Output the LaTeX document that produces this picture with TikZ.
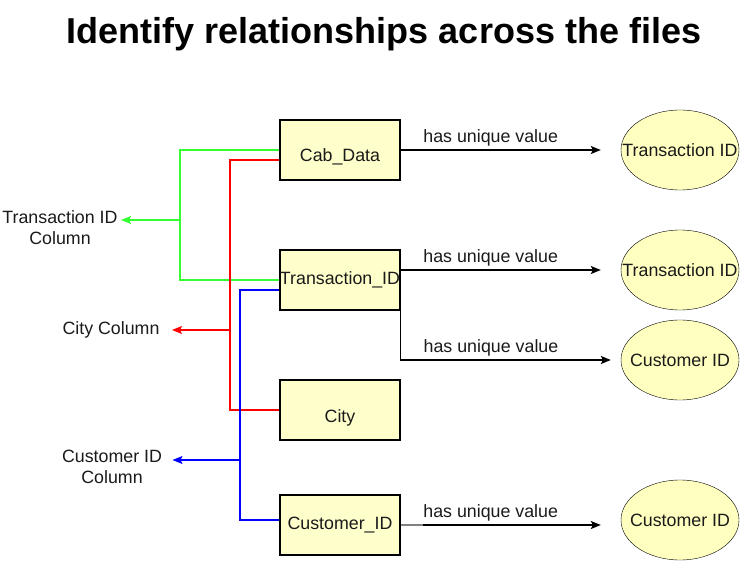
\documentclass[tikz,border=0pt]{standalone}
\usepackage{fontspec}
\setmainfont{Liberation Sans}
\usepackage{xcolor}
\usepackage{tikz}
\usetikzlibrary{calc}
\usetikzlibrary{shapes.geometric,arrows.meta}
\definecolor{boxfill}{HTML}{FFFFCC}
\definecolor{ovalfill}{HTML}{FFFFC0}
\definecolor{txt}{HTML}{1A1A1A}
\definecolor{lgreen}{HTML}{33FF33}

\begin{document}
\begin{tikzpicture}[x=1pt, y=-1pt,
    box/.style={draw, line width=1.2pt, fill=boxfill, minimum width=120pt, minimum height=60pt, inner sep=0pt, font=\fontsize{17.8}{21}\selectfont, text=txt},
    low/.style={text height=28pt, text depth=4pt},
    oval/.style={draw, ellipse, fill=ovalfill, minimum width=118pt, minimum height=80pt, inner sep=0pt},
    lbl/.style={font=\fontsize{17.8}{21}\selectfont, text=txt, align=center},
    arr/.style={-{Stealth[length=10pt, width=8pt, inset=2pt]}, line width=1.2pt}]
        %FRAME
        \useasboundingbox (0,0) rectangle (741,561);
        %TITLE
        \node[font=\bfseries\fontsize{36}{40}\selectfont] (title) at (384,34) {Identify relationships across the files};
        %FILES
        \node[box, low] (cab) at (340,150) {Cab\_Data};
        \node[box] (tid) at (340,280) {Transaction\_ID};
        \node[box, low] (city) at (340,410) {City};
        \node[box] (cid) at (340,525) {Customer\_ID};
        %VALUES
        \node[oval] (tv1) at (680,150) {};
        \node[oval] (tv2) at (680,270) {};
        \node[oval] (cv1) at (680,360) {};
        \node[oval] (cv2) at (680,520) {};
        \node[lbl] (tv1t) at (tv1) {Transaction ID};
        \node[lbl] (tv2t) at (tv2) {Transaction ID};
        \node[lbl] (cv1t) at (cv1) {Customer ID};
        \node[lbl] (cv2t) at (cv2) {Customer ID};
        %COLUMNS
        \node[lbl] (tcol) at (60,228) {Transaction ID\\Column};
        \node[lbl] (ccol) at (111,330) {City Column};
        \node[lbl] (cucol) at (112,467) {Customer ID\\Column};
        %JOINTS
        \coordinate (gj) at (180,220);
        \coordinate (rj) at (230,330);
        \coordinate (bj) at (240,460);
        %HAS UNIQUE VALUE
        \draw[arr] (cab.east) -- ([xshift=-20pt]tv1.west) node[lbl, pos=0.45, above] (h1) {has unique value};
        \draw[arr] (tid.east |- tv2) -- ([xshift=-20pt]tv2.west) node[lbl, pos=0.45, above] (h2) {has unique value};
        \draw[arr] (tid.east |- tv2) -- (tid.east |- cv1) -- ([xshift=-10pt]cv1.west) node[lbl, pos=0.43, above] (h3) {has unique value};
        \draw[arr] (cid.east) -- ($(cid.east -| cv2.west)+(-20,0)$) node[lbl, pos=0.45, above] (h4) {has unique value};
        \draw[gray, line width=1.6pt] (cid.east) -- ++(22,0);
        %GREEN
        \draw[lgreen, line width=1.2pt] (cab.west) -| (gj) |- (tid.west);
        \draw[arr, lgreen] (gj) -- (gj -| tcol.east);
        %RED
        \draw[red, line width=1.2pt] ([yshift=-10pt]cab.west) -| (rj) |- (city.west);
        \draw[arr, red] (rj) -- ([xshift=9pt]rj -| ccol.east);
        %BLUE
        \draw[blue, line width=1.2pt] ([yshift=-10pt]tid.west) -| (bj) |- ([yshift=5pt]cid.west);
        \draw[arr, blue] (bj) -- ([xshift=7pt]bj -| cucol.east);
\end{tikzpicture}
\end{document}
